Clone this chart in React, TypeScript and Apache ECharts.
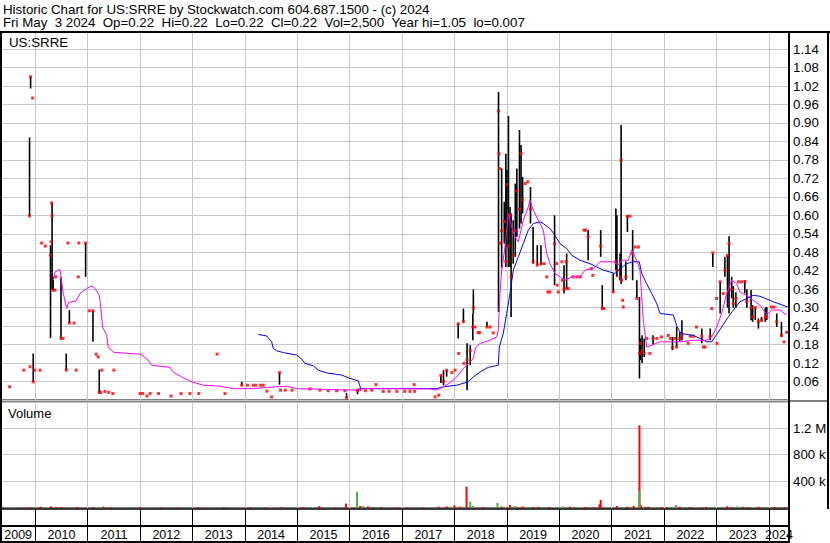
import React, { useEffect, useRef } from "react";
import * as echarts from "echarts";

const FONT = "'Liberation Sans', Arial, Helvetica, sans-serif";
const X_MIN = 2009.345;
const X_MAX = 2024.384;
const PRICE_MAX = 1.1955;
const VOL_MAX = 1590000;

const TITLE_1 = "Historic Chart for US:SRRE by Stockwatch.com 604.687.1500 - (c) 2024";
// second header line: fields separated by double spaces
const TITLE_2_FIELDS = ["Fri May", "3 2024", "Op=0.22", "Hi=0.22", "Lo=0.22", "Cl=0.22", "Vol=2,500", "Year hi=1.05", "lo=0.007"];
const SYMBOL = "US:SRRE";
const VOLUME_LABEL = "Volume";

const yearBoundaries = [2010, 2011, 2012, 2013, 2014, 2015, 2016, 2017, 2018, 2019, 2020, 2021, 2022, 2023, 2024];
const yearLabels = ["2009", "2010", "2011", "2012", "2013", "2014", "2015", "2016", "2017", "2018", "2019", "2020", "2021", "2022", "2023", "2024"];

// [date (decimal year), high, low, close]
const rangeBars = [
  [2009.89, 0.853, 0.598, 0.598], [2009.91, 1.05, 1.012, 1.05], [2009.96, 0.151, 0.059, 0.059],
  [2010.29, 0.503, 0.201, 0.47], [2010.32, 0.642, 0.357, 0.598], [2010.34, 0.4, 0.357, 0.357],
  [2010.49, 0.398, 0.2, 0.2], [2010.59, 0.151, 0.097, 0.097], [2010.65, 0.292, 0.25, 0.25],
  [2010.96, 0.51, 0.4, 0.51], [2011.1, 0.29, 0.189, 0.29], [2011.22, 0.099, 0.021, 0.025],
  [2013.94, 0.059, 0.048, 0.048], [2014.66, 0.089, 0.05, 0.089], [2015.94, 0.023, 0.007, 0.007],
  [2016.15, 0.037, 0.019, 0.03], [2017.74, 0.08, 0.055, 0.08], [2017.79, 0.097, 0.048, 0.06],
  [2017.85, 0.097, 0.076, 0.097], [2018.07, 0.248, 0.2, 0.248], [2018.17, 0.297, 0.254, 0.254],
  [2018.24, 0.184, 0.032, 0.13], [2018.3, 0.178, 0.113, 0.16], [2018.35, 0.281, 0.194, 0.237],
  [2018.36, 0.359, 0.281, 0.3], [2018.62, 0.254, 0.237, 0.237], [2018.84, 1.001, 0.286, 0.939],
  [2018.9, 0.752, 0.43, 0.55], [2018.95, 0.644, 0.508, 0.58], [2018.98, 0.8, 0.432, 0.45],
  [2019.0, 0.747, 0.497, 0.7], [2019.03, 0.923, 0.432, 0.5], [2019.06, 0.627, 0.432, 0.6],
  [2019.08, 0.606, 0.27, 0.4], [2019.12, 0.584, 0.443, 0.47], [2019.16, 0.703, 0.465, 0.55],
  [2019.19, 0.752, 0.53, 0.68], [2019.24, 0.877, 0.557, 0.62], [2019.27, 0.828, 0.573, 0.8],
  [2019.3, 0.725, 0.606, 0.65], [2019.45, 0.692, 0.573, 0.62], [2019.5, 0.562, 0.443, 0.449],
  [2019.58, 0.503, 0.438, 0.438], [2019.65, 0.503, 0.438, 0.443], [2019.91, 0.6, 0.373, 0.508],
  [2020.09, 0.438, 0.346, 0.36], [2020.14, 0.476, 0.362, 0.362], [2020.55, 0.552, 0.454, 0.53],
  [2020.79, 0.552, 0.465, 0.5], [2020.82, 0.373, 0.297, 0.297], [2021.03, 0.411, 0.351, 0.351],
  [2021.08, 0.622, 0.422, 0.45], [2021.1, 0.6, 0.4, 0.42], [2021.16, 0.476, 0.389, 0.4],
  [2021.18, 0.893, 0.378, 0.779], [2021.27, 0.45, 0.389, 0.4], [2021.3, 0.6, 0.546, 0.597],
  [2021.4, 0.552, 0.389, 0.476], [2021.48, 0.389, 0.33, 0.33], [2021.53, 0.335, 0.07, 0.151],
  [2021.55, 0.2, 0.13, 0.184], [2021.58, 0.21, 0.12, 0.16], [2021.62, 0.2, 0.14, 0.151],
  [2021.79, 0.21, 0.18, 0.2], [2022.16, 0.205, 0.162, 0.17], [2022.24, 0.237, 0.172, 0.172],
  [2022.3, 0.22, 0.19, 0.2], [2022.34, 0.259, 0.194, 0.21], [2022.72, 0.232, 0.184, 0.207],
  [2022.88, 0.232, 0.194, 0.207], [2022.93, 0.476, 0.432, 0.478], [2023.07, 0.384, 0.281, 0.384],
  [2023.16, 0.465, 0.4, 0.422], [2023.21, 0.47, 0.3, 0.47], [2023.24, 0.532, 0.281, 0.508],
  [2023.29, 0.4, 0.33, 0.36], [2023.32, 0.37, 0.3, 0.314], [2023.37, 0.35, 0.3, 0.33],
  [2023.54, 0.389, 0.346, 0.384], [2023.58, 0.36, 0.3, 0.32], [2023.66, 0.357, 0.259, 0.3],
  [2023.69, 0.308, 0.254, 0.27], [2023.74, 0.3, 0.26, 0.3], [2023.8, 0.265, 0.232, 0.254],
  [2023.86, 0.27, 0.254, 0.26], [2023.93, 0.3, 0.254, 0.27], [2023.96, 0.302, 0.26, 0.27],
  [2024.15, 0.281, 0.237, 0.254], [2024.24, 0.254, 0.205, 0.21],
];

// [date, close] for single-trade days (no visible range)
const closeDots = [
  [2009.51, 0.043], [2009.78, 0.097], [2009.9, 0.108], [2009.95, 0.981], [2009.99, 0.097],
  [2010.09, 0.097], [2010.12, 0.51], [2010.19, 0.5], [2010.3, 0.514], [2010.31, 0.64],
  [2010.37, 0.357], [2010.39, 0.4], [2010.53, 0.2], [2010.62, 0.51], [2010.74, 0.25],
  [2010.78, 0.097], [2010.82, 0.4], [2010.83, 0.51], [2011.03, 0.29], [2011.16, 0.149],
  [2011.2, 0.14], [2011.25, 0.025], [2011.27, 0.097], [2011.33, 0.028], [2011.4, 0.025],
  [2011.48, 0.021], [2011.5, 0.097], [2012.0, 0.021], [2012.05, 0.021], [2012.13, 0.013],
  [2012.19, 0.021], [2012.35, 0.021], [2012.59, 0.013], [2012.78, 0.021], [2012.95, 0.021],
  [2013.12, 0.021], [2013.47, 0.149], [2013.62, 0.021], [2014.05, 0.048], [2014.16, 0.048],
  [2014.21, 0.048], [2014.3, 0.048], [2014.35, 0.048], [2014.42, 0.029], [2014.51, 0.01],
  [2014.68, 0.032], [2014.77, 0.032], [2014.9, 0.032], [2015.24, 0.036], [2015.43, 0.032],
  [2015.59, 0.03], [2015.75, 0.03], [2015.91, 0.03], [2016.2, 0.034], [2016.3, 0.03],
  [2016.42, 0.032], [2016.5, 0.05], [2016.64, 0.028], [2016.75, 0.028], [2016.9, 0.028],
  [2017.05, 0.028], [2017.15, 0.028], [2017.23, 0.05], [2017.24, 0.028], [2017.63, 0.01],
  [2017.7, 0.016], [2017.95, 0.089], [2018.01, 0.097], [2018.08, 0.151], [2018.18, 0.119],
  [2018.39, 0.237], [2018.45, 0.219], [2018.48, 0.219], [2018.68, 0.237], [2018.74, 0.218],
  [2018.85, 0.8], [2018.86, 0.752], [2018.87, 0.51], [2019.35, 0.703], [2019.4, 0.709],
  [2019.71, 0.443], [2019.76, 0.4], [2019.78, 0.351], [2019.82, 0.351], [2019.95, 0.443],
  [2019.96, 0.373], [2019.98, 0.351], [2020.05, 0.449], [2020.06, 0.389], [2020.13, 0.449],
  [2020.17, 0.362], [2020.26, 0.4], [2020.34, 0.4], [2020.4, 0.4], [2020.47, 0.552],
  [2020.5, 0.552], [2020.61, 0.427], [2020.64, 0.405], [2020.85, 0.297], [2021.19, 0.389],
  [2021.21, 0.324], [2021.22, 0.302], [2021.35, 0.597], [2021.45, 0.497], [2021.51, 0.497],
  [2021.67, 0.2], [2021.73, 0.151], [2021.86, 0.2], [2021.95, 0.205], [2022.08, 0.21],
  [2022.12, 0.2], [2022.2, 0.2], [2022.46, 0.184], [2022.5, 0.207], [2022.56, 0.207],
  [2022.62, 0.237], [2022.75, 0.172], [2022.78, 0.172], [2022.91, 0.297], [2023.0, 0.33],
  [2023.01, 0.184], [2023.13, 0.346], [2023.42, 0.384], [2023.48, 0.384], [2024.05, 0.302],
  [2024.1, 0.302], [2024.29, 0.189], [2024.34, 0.22],
];

const maShort = [
  [2010.344, 0.389], [2010.376, 0.416], [2010.471, 0.424], [2010.534, 0.346], [2010.599, 0.297],
  [2010.63, 0.316], [2010.777, 0.322], [2010.853, 0.346], [2010.981, 0.362], [2011.076, 0.371],
  [2011.139, 0.362], [2011.221, 0.34], [2011.248, 0.302], [2011.286, 0.237], [2011.363, 0.21],
  [2011.393, 0.172], [2011.489, 0.155], [2011.807, 0.151], [2011.998, 0.149], [2012.126, 0.135],
  [2012.221, 0.113], [2012.571, 0.106], [2012.634, 0.091], [2012.794, 0.075], [2012.985, 0.059],
  [2013.206, 0.048], [2013.525, 0.045], [2013.779, 0.037], [2014.16, 0.037], [2014.416, 0.041],
  [2014.67, 0.043], [2014.798, 0.045], [2014.989, 0.037], [2015.624, 0.034], [2016.134, 0.032],
  [2016.26, 0.037], [2017.532, 0.036], [2017.66, 0.032], [2017.786, 0.043], [2017.914, 0.056],
  [2018.042, 0.075], [2018.168, 0.102], [2018.296, 0.124], [2018.36, 0.135], [2018.4, 0.17],
  [2018.49, 0.184], [2018.678, 0.194], [2018.805, 0.205], [2018.836, 0.227], [2018.868, 0.346],
  [2018.901, 0.422], [2018.964, 0.497], [2019.027, 0.606], [2019.092, 0.562], [2019.155, 0.53],
  [2019.218, 0.514], [2019.313, 0.584], [2019.408, 0.627], [2019.441, 0.649], [2019.504, 0.617],
  [2019.599, 0.584], [2019.695, 0.552], [2019.76, 0.476], [2019.823, 0.443], [2019.918, 0.411],
  [2020.013, 0.4], [2020.109, 0.389], [2020.237, 0.4], [2020.395, 0.4], [2020.491, 0.422],
  [2020.649, 0.427], [2020.777, 0.449], [2021.031, 0.449], [2021.126, 0.438], [2021.191, 0.454],
  [2021.317, 0.454], [2021.382, 0.487], [2021.477, 0.454], [2021.54, 0.422], [2021.573, 0.335],
  [2021.603, 0.259], [2021.668, 0.172], [2021.763, 0.178], [2021.922, 0.189], [2022.303, 0.189],
  [2022.557, 0.194], [2022.813, 0.194], [2022.908, 0.205], [2023.004, 0.237], [2023.099, 0.281],
  [2023.195, 0.346], [2023.29, 0.389], [2023.385, 0.378], [2023.448, 0.351], [2023.576, 0.34],
  [2023.702, 0.324], [2023.83, 0.308], [2023.958, 0.276], [2024.053, 0.292], [2024.212, 0.292],
  [2024.34, 0.276],
];

const maLong = [
  [2014.256, 0.213], [2014.416, 0.208], [2014.511, 0.189], [2014.542, 0.167], [2014.607, 0.16],
  [2014.733, 0.154], [2014.989, 0.146], [2015.084, 0.133], [2015.147, 0.119], [2015.305, 0.111],
  [2015.401, 0.097], [2015.561, 0.088], [2015.847, 0.081], [2016.006, 0.07], [2016.164, 0.062],
  [2016.21, 0.037], [2017.666, 0.037], [2017.786, 0.043], [2018.042, 0.048], [2018.263, 0.059],
  [2018.359, 0.075], [2018.487, 0.091], [2018.645, 0.106], [2018.836, 0.113], [2018.855, 0.172],
  [2018.931, 0.216], [2018.996, 0.281], [2019.059, 0.346], [2019.122, 0.422], [2019.218, 0.465],
  [2019.313, 0.508], [2019.408, 0.552], [2019.504, 0.573], [2019.632, 0.579], [2019.695, 0.573],
  [2019.823, 0.557], [2019.918, 0.535], [2020.013, 0.508], [2020.141, 0.492], [2020.237, 0.47],
  [2020.395, 0.454], [2020.586, 0.443], [2020.714, 0.432], [2020.84, 0.422], [2021.063, 0.411],
  [2021.126, 0.422], [2021.286, 0.443], [2021.412, 0.449], [2021.527, 0.449], [2021.573, 0.411],
  [2021.668, 0.378], [2021.763, 0.346], [2021.859, 0.314], [2021.922, 0.281], [2022.176, 0.276],
  [2022.25, 0.237], [2022.32, 0.216], [2022.557, 0.21], [2022.685, 0.2], [2022.813, 0.189],
  [2022.908, 0.189], [2022.971, 0.205], [2023.099, 0.237], [2023.225, 0.27], [2023.321, 0.292],
  [2023.448, 0.319], [2023.576, 0.33], [2023.702, 0.34], [2023.83, 0.337], [2024.088, 0.319],
  [2024.363, 0.302],
];

// [date, volume]
const volDown = [
  [2009.9, 12000], [2010.1, 20000], [2010.3, 25000], [2010.4, 12000], [2010.5, 15000],
  [2010.8, 15000], [2011.1, 12000], [2011.3, 20000], [2011.45, 10000], [2012.0, 10000],
  [2012.4, 10000], [2012.7, 8000], [2013.1, 10000], [2013.6, 10000], [2014.1, 12000],
  [2014.4, 10000], [2014.7, 15000], [2015.1, 10000], [2015.42, 30000], [2015.7, 10000],
  [2015.93, 66000], [2016.2, 30000], [2016.35, 25000], [2016.45, 15000], [2016.6, 15000],
  [2016.9, 12000], [2017.1, 10000], [2017.4, 10000], [2017.7, 20000], [2017.85, 25000],
  [2018.0, 40000], [2018.1, 20000], [2018.23, 320000], [2018.55, 15000], [2018.9, 20000],
  [2019.06, 46000], [2019.2, 15000], [2019.3, 25000], [2019.5, 12000], [2019.6, 18000],
  [2019.8, 15000], [2020.2, 20000], [2020.3, 10000], [2020.5, 15000], [2020.65, 12000],
  [2020.77, 56000], [2020.79, 122000], [2021.1, 30000], [2021.3, 20000], [2021.42, 30000],
  [2021.53, 1240000], [2021.56, 40000], [2021.64, 15000], [2021.7, 20000], [2021.95, 15000],
  [2022.05, 12000], [2022.3, 20000], [2022.5, 15000], [2022.7, 12000], [2022.8, 15000],
  [2023.2, 25000], [2023.3, 15000], [2023.5, 20000], [2023.6, 12000], [2023.8, 20000],
  [2024.1, 15000], [2024.3, 10000],
];
const volUp = [
  [2010.2, 15000], [2010.6, 10000], [2011.2, 10000], [2012.9, 8000], [2014.3, 10000],
  [2015.6, 10000], [2016.14, 240000], [2016.25, 30000], [2016.5, 15000], [2017.3, 10000],
  [2017.9, 20000], [2018.15, 25000], [2018.3, 92000], [2018.35, 30000], [2018.82, 76000],
  [2019.0, 20000], [2019.16, 30000], [2019.4, 15000], [2019.7, 10000], [2020.0, 12000],
  [2020.35, 15000], [2020.9, 12000], [2021.2, 15000], [2021.53, 260000], [2021.8, 12000],
  [2022.1, 15000], [2022.23, 46000], [2022.4, 10000], [2022.9, 15000], [2023.1, 20000],
  [2023.4, 25000], [2023.9, 15000], [2024.2, 10000],
];
const volFlat = [
  [2009.6, 8000], [2010.0, 10000], [2011.6, 8000], [2012.2, 8000], [2013.3, 8000],
  [2013.9, 10000], [2014.5, 10000], [2015.3, 12000], [2016.8, 10000], [2017.5, 10000],
  [2019.9, 10000], [2020.07, 30000], [2020.4, 12000], [2021.45, 10000], [2022.6, 10000],
  [2023.7, 10000],
];

const GRID_GREY = "#c8c8c8";
const HEADER_SIZE = 13.3;

function yearLabelPositions() {
  return yearLabels.map((y) => {
    const s = Math.max(Number(y), X_MIN);
    const e = Math.min(Number(y) + 1, X_MAX);
    return (s + e) / 2;
  });
}

function makeX(gridIndex: number, splitColor: string, withLabels: boolean) {
  return {
    type: "value",
    gridIndex,
    min: X_MIN,
    max: X_MAX,
    axisLine: { show: false },
    axisTick: { show: false, customValues: yearBoundaries },
    splitLine: { show: true, lineStyle: { color: splitColor, width: 1 } },
    axisLabel: withLabels
      ? {
          show: true,
          customValues: yearLabelPositions(),
          formatter: (v: number) => {
            const y = String(Math.floor(v + 1e-9));
            return yearLabels.indexOf(y) >= 0 ? y : "";
          },
          color: "#000",
          fontFamily: FONT,
          fontSize: 12.5,
          margin: 2,
        }
      : { show: false },
  };
}

function volBarSeries(data: number[][], color: string) {
  return {
    type: "custom",
    xAxisIndex: 1,
    yAxisIndex: 1,
    clip: true,
    data,
    encode: { x: 0, y: 1 },
    renderItem: (_p: any, api: any) => {
      const x = api.value(0);
      const v = api.value(1);
      const top = api.coord([x, v]);
      const base = api.coord([x, 0]);
      return {
        type: "rect",
        shape: { x: top[0] - 1, y: top[1], width: 2, height: base[1] - top[1] },
        style: { fill: color },
      };
    },
  };
}

function line(x1: number, y1: number, x2: number, y2: number, w: number) {
  return { type: "line", silent: true, z: 100, shape: { x1, y1, x2, y2 }, style: { stroke: "#000", lineWidth: w } };
}

function text(t: string, x: number, y: number, size: number) {
  return {
    type: "text",
    silent: true,
    z: 100,
    x,
    y,
    style: { text: t, fill: "#000", font: `${size}px ${FONT}`, align: "left", verticalAlign: "middle" },
  };
}

// lay out the header fields with double-space gaps, measured in the same font
function headerLine2(y: number) {
  const ctx = document.createElement("canvas").getContext("2d");
  const font = `${HEADER_SIZE}px ${FONT}`;
  let measure = (s: string) => s.length * HEADER_SIZE * 0.55;
  if (ctx) {
    ctx.font = font;
    measure = (s: string) => ctx.measureText(s).width;
  }
  const gap = measure("  ") || measure(" ") * 2;
  let x = 3;
  return TITLE_2_FIELDS.map((f) => {
    const el = text(f, x, y, HEADER_SIZE);
    x += measure(f) + gap;
    return el;
  });
}

export default function App() {
  const ref = useRef<HTMLDivElement>(null);
  useEffect(() => {
    if (!ref.current) return;
    const chart = echarts.init(ref.current, null, { renderer: "svg" });
    const closes = [...rangeBars.map((b) => [b[0], b[3]]), ...closeDots];
    const option: any = {
      animation: false,
      backgroundColor: "#ffffff",
      grid: [
        { left: 1, top: 32, width: 788, height: 368, show: true, borderColor: "#000", borderWidth: 1, backgroundColor: "#fff" },
        { left: 1, top: 402, width: 788, height: 106, show: true, borderColor: "#000", borderWidth: 1, backgroundColor: "#fff" },
        { left: 1, top: 509, width: 788, height: 17, show: false },
        { left: 1, top: 526, width: 788, height: 16, show: false },
      ],
      xAxis: [
        makeX(0, GRID_GREY, false),
        makeX(1, GRID_GREY, false),
        makeX(2, "#000", true),
        makeX(3, "#000", false),
      ],
      yAxis: [
        {
          type: "value",
          gridIndex: 0,
          position: "right",
          min: 0,
          max: PRICE_MAX,
          interval: 0.06,
          axisLine: { show: false },
          axisTick: { show: false },
          splitLine: { show: true, lineStyle: { color: GRID_GREY, width: 1 } },
          axisLabel: {
            showMinLabel: false,
            showMaxLabel: false,
            formatter: (v: number) => v.toFixed(2),
            color: "#000",
            fontFamily: FONT,
            fontSize: 13.3,
            margin: 4,
          },
        },
        {
          type: "value",
          gridIndex: 1,
          position: "right",
          min: 0,
          max: VOL_MAX,
          interval: 400000,
          axisLine: { show: false },
          axisTick: { show: false },
          splitLine: { show: true, lineStyle: { color: GRID_GREY, width: 1 } },
          axisLabel: {
            showMinLabel: false,
            showMaxLabel: false,
            formatter: (v: number) => (v >= 1000000 ? (v / 1000000).toFixed(1) + " M" : Math.round(v / 1000) + " k"),
            color: "#000",
            fontFamily: FONT,
            fontSize: 13.3,
            margin: 4,
          },
        },
        { type: "value", gridIndex: 2, min: 0, max: 1, show: false },
        { type: "value", gridIndex: 3, min: 0, max: 1, show: false },
      ],
      series: [
        {
          type: "custom",
          xAxisIndex: 0,
          yAxisIndex: 0,
          clip: true,
          data: rangeBars,
          encode: { x: 0, y: [1, 2] },
          renderItem: (_p: any, api: any) => {
            const x = api.value(0);
            const hi = api.coord([x, api.value(1)]);
            const lo = api.coord([x, api.value(2)]);
            return {
              type: "line",
              shape: { x1: hi[0], y1: hi[1], x2: lo[0], y2: lo[1] },
              style: { stroke: "#000", lineWidth: 1.6 },
            };
          },
        },
        {
          type: "line",
          xAxisIndex: 0,
          yAxisIndex: 0,
          data: maLong,
          showSymbol: false,
          symbol: "none",
          lineStyle: { color: "#0000ff", width: 1 },
        },
        {
          type: "line",
          xAxisIndex: 0,
          yAxisIndex: 0,
          data: maShort,
          showSymbol: false,
          symbol: "none",
          lineStyle: { color: "#ff00ff", width: 1 },
        },
        {
          type: "scatter",
          xAxisIndex: 0,
          yAxisIndex: 0,
          data: closes,
          symbol: "rect",
          symbolSize: [3, 3],
          itemStyle: { color: "#ff0000" },
        },
        volBarSeries(volFlat, "#a0a0a0"),
        volBarSeries(volDown, "#ff0000"),
        volBarSeries(volUp, "#44b044"),
      ],
      graphic: [
        text(TITLE_1, 3, 9, HEADER_SIZE),
        ...headerLine2(22.5),
        text(SYMBOL, 9, 42, 13.3),
        text(VOLUME_LABEL, 8, 413, 13),
        line(1, 31, 1, 543, 2),
        line(0, 32, 830, 32, 2),
        line(789, 31, 789, 543, 2),
        line(828, 31, 828, 509, 2),
        line(789, 401, 829, 401, 1),
        line(0, 509, 789, 509, 1.5),
        line(0, 526, 789, 526, 2),
        line(0, 542, 789, 542, 2),
      ],
    };
    chart.setOption(option);
    return () => chart.dispose();
  }, []);
  return (
    <div
      ref={ref}
      style={{ position: "absolute", left: 0, top: 0, width: 830, height: 543, background: "#fff" }}
    />
  );
}
